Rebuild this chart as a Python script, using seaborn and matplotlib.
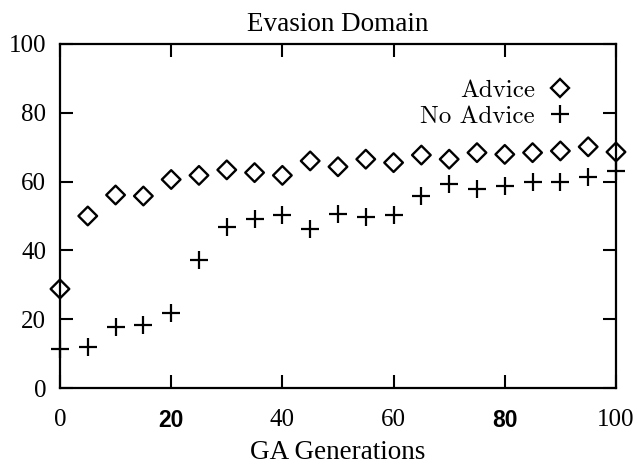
import matplotlib
matplotlib.use("Agg")
import matplotlib.pyplot as plt
from matplotlib.lines import Line2D
import seaborn as sns
import pandas as pd

# GA generation checkpoints and evasion success (%) for each run type
generations = [0, 5, 10, 15, 20, 25, 30, 35, 40, 45, 50,
               55, 60, 65, 70, 75, 80, 85, 90, 95, 100]
advice = [28.8, 50.0, 56.1, 55.8, 60.6, 61.8, 63.4, 62.6, 61.8, 66.0, 64.3,
          66.5, 65.5, 67.7, 66.5, 68.4, 67.9, 68.4, 68.9, 70.1, 68.6]
no_advice = [11.4, 12.0, 17.7, 18.4, 21.8, 37.1, 46.8, 49.2, 50.4, 46.3, 50.6,
             49.8, 50.4, 55.8, 59.4, 57.7, 58.7, 60.0, 60.0, 61.3, 63.1]

x_ticks = [0, 20, 40, 60, 80, 100]
y_ticks = [0, 20, 40, 60, 80, 100]
series_labels = ["Advice", "No Advice"]

sns.set_style("ticks")
plt.rcParams.update({
    "font.family": ["Liberation Serif", "DejaVu Serif"],
    "xtick.direction": "in",
    "ytick.direction": "in",
    "text.color": "black",
    "axes.labelcolor": "black",
    "axes.edgecolor": "black",
    "xtick.color": "black",
    "ytick.color": "black",
})

df = pd.DataFrame({"gen": generations, "advice": advice, "no_advice": no_advice})

fig = plt.figure(figsize=(6.38, 4.67), dpi=100)
ax = fig.add_axes([0.094, 0.169, 0.8715, 0.737])

sns.scatterplot(data=df, x="gen", y="advice", marker="D", s=90,
                facecolors="none", edgecolor="black", linewidth=1.7,
                ax=ax, clip_on=False, zorder=3)
sns.scatterplot(data=df, x="gen", y="no_advice", marker="+", s=170,
                color="black", linewidth=1.6, ax=ax, clip_on=False, zorder=3)

ax.set_xlim(0, 100)
ax.set_ylim(0, 100)
ax.set_xticks(x_ticks)
ax.set_yticks(y_ticks)
ax.tick_params(axis="both", which="major", length=9.5, width=1.5,
               top=True, right=True, labelsize=18)
ax.tick_params(axis="x", pad=15)
ax.tick_params(axis="y", pad=10)
for spine in ax.spines.values():
    spine.set_linewidth(1.6)
    spine.set_visible(True)

# bold sans digits on two of the x tick labels
for lab in ax.get_xticklabels():
    if lab.get_text() in ("20", "80"):
        lab.set_fontfamily("Liberation Sans")
        lab.set_fontweight("bold")
        lab.set_fontsize(16.5)

ax.set_title("Evasion Domain", fontsize=19.5, pad=9)
ax.set_xlabel("GA Generations", fontsize=19.5, labelpad=6)
ax.set_ylabel("")

handles = [
    Line2D([], [], marker="D", linestyle="none", markersize=9.5,
           markerfacecolor="none", markeredgecolor="black", markeredgewidth=1.7),
    Line2D([], [], marker="+", linestyle="none", markersize=13,
           color="black", markeredgewidth=1.6),
]
ax.legend(handles, series_labels, loc="upper right", frameon=False,
          markerfirst=False, prop={"family": "cmr10", "size": 18},
          bbox_to_anchor=(0.922, 0.898), handlelength=1.0, handletextpad=0.5,
          labelspacing=0.15, borderpad=0, borderaxespad=0)

fig.savefig("out.png", dpi=100)
